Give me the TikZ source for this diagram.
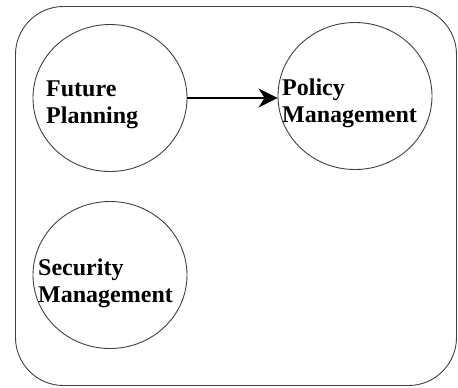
\documentclass[tikz,border=0pt]{standalone}
\usepackage{fontspec}
\setmainfont{Liberation Serif}
\usepackage{tikz}
\usetikzlibrary{arrows.meta,positioning,shapes.geometric,calc}

\tikzset{
    bubble/.style={draw=black!75, line width=0.9bp, ellipse, minimum width=154bp, minimum height=147bp, inner sep=0pt},
    bubbletext/.style={anchor=base west, align=left, inner sep=0pt, font=\fontsize{24bp}{27bp}\selectfont\bfseries}
}

\begin{document}
\begin{tikzpicture}[x=1bp, y=1bp]
    \useasboundingbox (0,0) rectangle (458,-387);

    % Outer frame
    \draw[black!75, line width=0.9bp, rounded corners=48bp] (15.5,-6.5) rectangle (456.5,-385.5);

    % Bubbles
    \node[bubble] (fp) at (110,-98) {};
    \node[bubble] (pm) at (355,-96) {};
    \node[bubble] (sm) at (110,-275) {};

    % Labels
    \node[bubbletext] (fptext) at (46,-123) {Future\\Planning};
    \node[bubbletext] (pmtext) at (282,-122) {Policy\\Management};
    \node[bubbletext] (smtext) at (38,-302) {Security\\Management};

    % Flow
    \draw[-{Stealth[length=19bp, width=19bp, inset=6bp]}, line width=1.2bp] (fp.east) -- (fp.east -| pm.west);

\end{tikzpicture}
\end{document}
